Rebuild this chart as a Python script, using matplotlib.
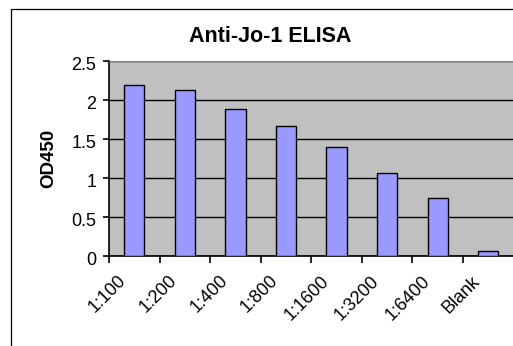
import matplotlib
matplotlib.use("Agg")
import matplotlib.pyplot as plt
from matplotlib.patches import Rectangle
from matplotlib.transforms import ScaledTranslation
import numpy as np

# dados
diluicoes = ["1:100", "1:200", "1:400", "1:800", "1:1600", "1:3200", "1:6400", "Blank"]
od450 = [2.19, 2.13, 1.89, 1.67, 1.39, 1.06, 0.74, 0.06]
yticks = [0, 0.5, 1, 1.5, 2, 2.5]
ytick_labels = ["0", "0.5", "1", "1.5", "2", "2.5"]

plt.rcParams["font.family"] = ["Liberation Sans", "DejaVu Sans"]

W, H = 513.0, 346.0
fig = plt.figure(figsize=(W / 100, H / 100), dpi=100)
fig.patch.set_facecolor("white")

# moldura externa do grafico (cortada a direita e embaixo)
fig.patches.append(Rectangle((11 / W, -0.1), 1.2, (H - 9) / H + 0.1,
                             transform=fig.transFigure, fill=False,
                             edgecolor="black", linewidth=0.9, clip_on=False))

ax = fig.add_axes([109 / W, (H - 255.7) / H, 1.0 - 109 / W + 0.001, (255.7 - 61) / H])
ax.set_facecolor("#C0C0C0")

x = np.arange(len(diluicoes))
ax.bar(x, od450, width=0.4, color="#9999FF", edgecolor="black", linewidth=1.0, zorder=3)

ax.set_xlim(-0.5, len(diluicoes) - 0.5)
ax.set_ylim(0, 2.5)
ax.set_yticks(yticks)
ax.set_yticklabels(ytick_labels, fontsize=13)
ax.yaxis.grid(True, color="black", linewidth=1.0, zorder=1)
ax.set_axisbelow(True)

ax.set_xticks(x)
ax.set_xticklabels(diluicoes, rotation=45, ha="right", va="top",
                   rotation_mode="anchor", fontsize=13)

# marcas do eixo x nas divisas das categorias
ax.set_xticks(np.arange(len(diluicoes)) - 0.5, minor=True)
ax.tick_params(axis="x", which="major", length=0, pad=12)
ax.tick_params(axis="x", which="minor", length=5, width=1.2, color="black")
ax.tick_params(axis="y", length=4, width=1.2, pad=5)

# deslocamentos depois do tick_params (o pad refaz o transform dos rotulos)
dx = ScaledTranslation(-16.5 / 100, 0, fig.dpi_scale_trans)
for lbl in ax.get_xticklabels():
    lbl.set_transform(lbl.get_transform() + dx)
dy = ScaledTranslation(0, -2.5 / 100, fig.dpi_scale_trans)
for lbl in ax.get_yticklabels():
    lbl.set_transform(lbl.get_transform() + dy)

ax.spines["right"].set_visible(False)
ax.spines["top"].set_color("#808080")
ax.spines["left"].set_linewidth(1.2)
ax.spines["bottom"].set_linewidth(1.2)

ax.set_ylabel("OD450", fontsize=13.5, fontweight="bold")
ax.yaxis.set_label_coords(-0.148, 0.5)
ax.yaxis.label.set_va("center")

fig.text(270.5 / W, 1 - 37 / H, "Anti-Jo-1 ELISA", ha="center", va="center",
         fontsize=15.5, fontweight="bold")

fig.savefig("out.png", dpi=100)
